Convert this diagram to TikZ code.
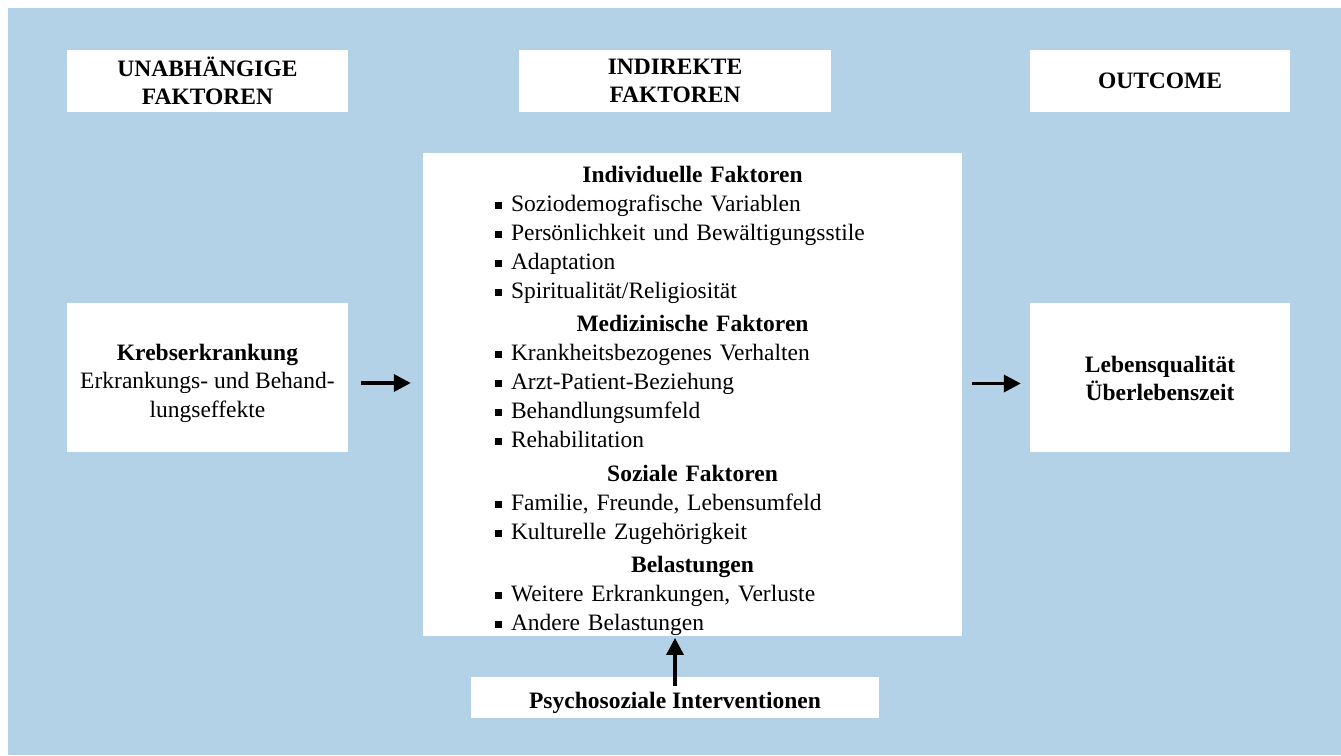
\documentclass[tikz,border=0pt]{standalone}
\usepackage{fontspec}
\setmainfont{Liberation Serif}
\usetikzlibrary{arrows.meta, positioning}
\setlength{\parindent}{0pt}
\definecolor{hellblau}{RGB}{179,210,231}
\newcommand{\faktorkopf}[2][4.5pt]{\par\vspace{#1}{\centering\bfseries #2\par}}
\newcommand{\faktorpunkt}[1]{\par\noindent\hspace*{72pt}\raisebox{2.5pt}{\rule{7pt}{7pt}}\hspace{9pt}#1\par}

\begin{document}
\begin{tikzpicture}[
        x=1pt, y=-1pt,
        on grid,
        >={Triangle[length=17pt,width=17pt]},
        kasten/.style={fill=white, inner sep=0pt, align=center,
            font=\fontsize{23.5}{28.5}\selectfont},
        kopf/.style={kasten, minimum height=62pt,
            font=\fontsize{23.5}{28.5}\selectfont\bfseries},
        pfeil/.style={->, line width=3.5pt}]
        \useasboundingbox (0,0) rectangle (1341,755);
        \fill[hellblau] (8,8) rectangle (1341,755);
        % Boxes
        \node[kasten, minimum width=281pt, minimum height=149pt,
            text height=84pt, text depth=5pt] (krebs) at (207.5,377.5)
            {\textbf{Krebserkrankung}\\Erkrankungs- und Behand-\\lungseffekte};
        \node[kasten, minimum width=260pt, minimum height=149pt, right=952.5pt of krebs,
            text height=51pt, text depth=5pt,
            font=\fontsize{23.5}{28.5}\selectfont\bfseries] (outcome)
            {Lebensqualität\\Überlebenszeit};
        
        \node[kopf, minimum width=281pt, above=296.5pt of krebs] (kopf_unabhaengig)
            {UNABHÄNGIGE\\FAKTOREN};
        \node[kopf, minimum width=312pt] (kopf_indirekt) at (675,81)
            {INDIREKTE\\FAKTOREN};
        \node[kopf, minimum width=260pt, above=296.5pt of outcome] (kopf_outcome)
            {OUTCOME};
        
        \node[kasten, text width=539pt, minimum height=481pt, align=left,
            font=\fontsize{23.5}{29}\selectfont] (faktoren) at (692.5,394.5) {%
            \faktorkopf[0pt]{Individuelle Faktoren}
            \faktorpunkt{Soziodemografische Variablen}
            \faktorpunkt{Persönlichkeit und Bewältigungsstile}
            \faktorpunkt{Adaptation}
            \faktorpunkt{Spiritualität/Religiosität}
            \faktorkopf{Medizinische Faktoren}
            \faktorpunkt{Krankheitsbezogenes Verhalten}
            \faktorpunkt{Arzt-Patient-Beziehung}
            \faktorpunkt{Behandlungsumfeld}
            \faktorpunkt{Rehabilitation}
            \faktorkopf{Soziale Faktoren}
            \faktorpunkt{Familie, Freunde, Lebensumfeld}
            \faktorpunkt{Kulturelle Zugehörigkeit}
            \faktorkopf{Belastungen}
            \faktorpunkt{Weitere Erkrankungen, Verluste}
            \faktorpunkt{Andere Belastungen}};
        
        \node[kasten, minimum width=408pt, minimum height=41pt,
            text height=22pt, text depth=0pt,
            font=\fontsize{23.5}{28.5}\selectfont\bfseries] (interventionen) at (675,697.5)
            {Psychosoziale Interventionen};
        % Arrows
        \draw[pfeil, shorten <=13pt, shorten >=12pt] ([yshift=-5.5pt]krebs.east)
            -- ([yshift=-5.5pt]krebs.east -| faktoren.west);
        \draw[pfeil, shorten <=10pt, shorten >=9pt] ([yshift=-6pt]outcome.west -| faktoren.east)
            -- ([yshift=-6pt]outcome.west);
        \draw[pfeil, shorten >=2pt] ([yshift=-9pt]interventionen.north)
            -- (interventionen.north |- faktoren.south);
\end{tikzpicture}
\end{document}
